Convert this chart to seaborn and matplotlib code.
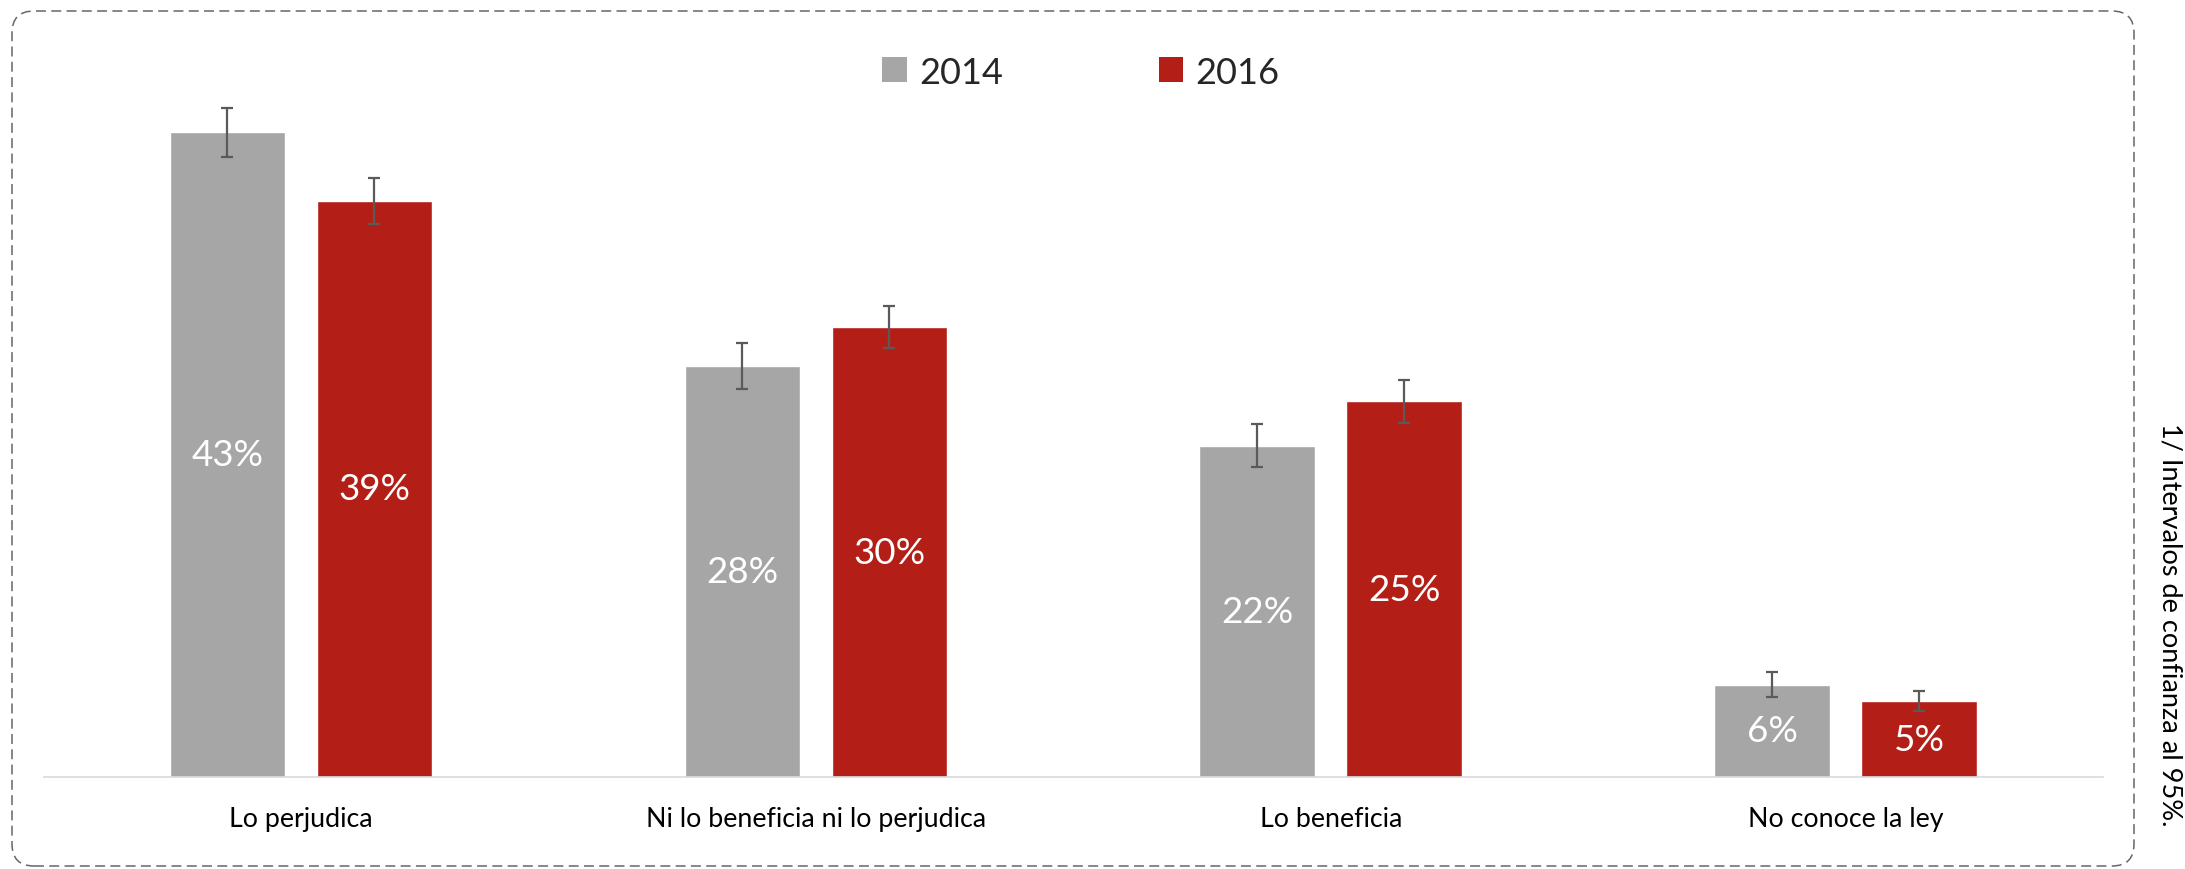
import matplotlib
matplotlib.use("Agg")
import matplotlib.pyplot as plt
import seaborn as sns
import pandas as pd
from matplotlib.patches import FancyBboxPatch, Patch
from matplotlib.transforms import IdentityTransform

# ---- data ----
categories = ["Lo perjudica", "Ni lo beneficia ni lo perjudica", "Lo beneficia", "No conoce la ley"]
years = ["2014", "2016"]
values_2014 = [43.4, 27.7, 22.3, 6.2]
values_2016 = [38.8, 30.3, 25.3, 5.1]
err_2014 = [1.68, 1.55, 1.45, 0.84]
err_2016 = [1.55, 1.41, 1.45, 0.67]
colors = ["#A6A6A6", "#B31F17"]
note = "1/ Intervalos de confianza al 95%."

df = pd.DataFrame({
    "cat": categories * 2,
    "year": [years[0]] * 4 + [years[1]] * 4,
    "value": values_2014 + values_2016,
})

sns.set_theme(style="white")
plt.rcParams["font.family"] = ["Lato", "DejaVu Sans"]

W, H = 2185, 870
fig = plt.figure(figsize=(W / 100, H / 100), dpi=100)
ax = fig.add_axes([43.5 / W, (H - 778) / H, 2059.5 / W, 0.8023])

sns.barplot(data=df, x="cat", y="value", hue="year", order=categories,
            hue_order=years, palette=colors, width=0.571, gap=0.214,
            errorbar=None, saturation=1, ax=ax, legend=False)

errs = [err_2014, err_2016]
vals = [values_2014, values_2016]
bar_containers = list(ax.containers)
for i, cont in enumerate(bar_containers):
    bars = list(cont.patches)
    xs = [b.get_x() + b.get_width() / 2 for b in bars]
    ax.errorbar(xs, vals[i], yerr=errs[i], fmt="none", ecolor="#5A5A5A",
                elinewidth=1.6, capsize=4.3, capthick=1.6, zorder=5)
    for x, v in zip(xs, vals[i]):
        ax.text(x, v / 2, f"{round(v)}%",
                ha="center", va="center", color="white", fontsize=26.5)

ax.set_xlim(-0.5, 3.5)
ax.set_ylim(0, 47)
ax.set_xlabel("")
ax.set_ylabel("")
ax.set_yticks([])
for s in ["top", "left", "right"]:
    ax.spines[s].set_visible(False)
ax.spines["bottom"].set_color("#D9D9D9")
ax.spines["bottom"].set_linewidth(1.2)
ax.tick_params(axis="x", length=0, pad=21, labelsize=19.3, labelcolor="black")

handles = [Patch(facecolor=c, edgecolor="none") for c in colors]
fig.legend(handles, years, loc="center", bbox_to_anchor=(1081 / W, 1 - 73 / H),
           ncol=2, frameon=False, fontsize=26, handlelength=0.68,
           handleheight=0.68, handletextpad=0.35, columnspacing=4.3)

fig.text(2170 / W, 1 - 625 / H, note, rotation=-90, ha="center", va="center",
         fontsize=19.5, color="black")

border = FancyBboxPatch((12, 3), 2134 - 12, 858 - 3,
                        boxstyle="round,pad=0,rounding_size=22",
                        transform=IdentityTransform(), fill=False,
                        edgecolor="#666666", linewidth=1.1,
                        linestyle=(0, (6.5, 3.5)))
fig.patches.append(border)

fig.savefig("out.png", dpi=100)
